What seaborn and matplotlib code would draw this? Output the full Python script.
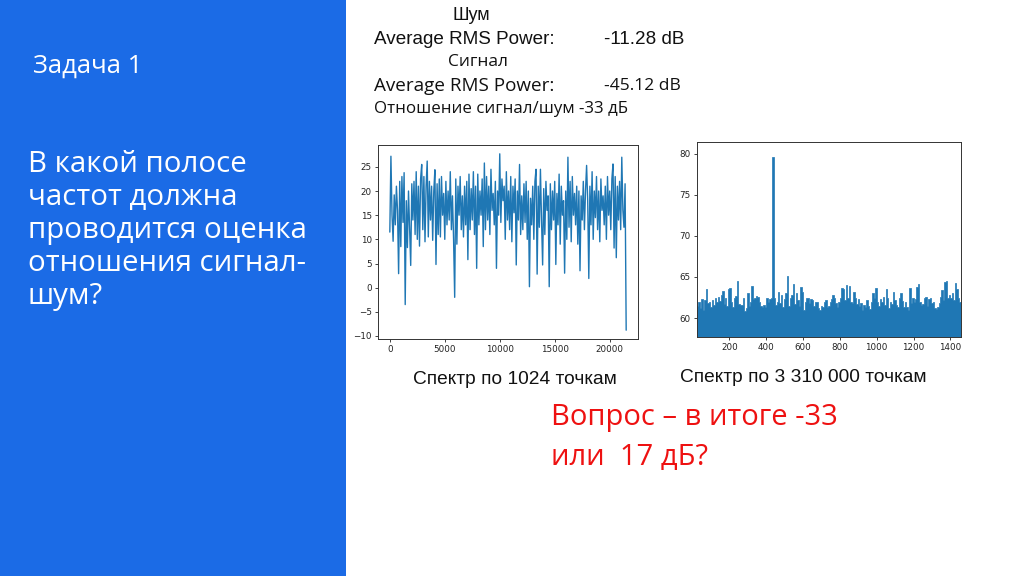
import numpy as np
import pandas as pd
import matplotlib
matplotlib.use("Agg")
import matplotlib.pyplot as plt
import seaborn as sns

# ---------------- data ----------------
noise_freq = np.arange(0, 21600, 100)  # Hz grid of the 1024-point spectrum
noise_db = [
    11.5, 27.2, 15.0, 9.6, 19.2, 13.0, 21.0, 16.0, 2.9, 22.0,
    8.5, 23.0, 13.5, 23.8, -3.5, 18.0, 8.3, 20.0, 12.0, 4.6,
    21.5, 14.0, 22.0, 11.0, 24.0, 10.0, 21.0, 8.6, 22.5, 25.5,
    12.0, 23.0, 9.5, 21.0, 26.2, 10.5, 22.0, 14.0, 21.0, 9.8,
    20.0, 24.4, 4.8, 21.5, 11.0, 22.5, 10.5, 23.0, 15.0, 19.5,
    10.0, 22.0, 13.0, 20.0, 14.0, 24.0, 12.0, 19.0, 10.0, -2.0,
    22.5, 9.0, 21.0, 15.0, 23.0, 12.0, 19.0, 10.5, 21.0, 13.0,
    22.0, 5.8, 23.5, 12.0, 20.5, 14.0, 24.0, 11.0, 21.0, 4.0,
    23.5, 13.0, 20.0, 15.0, 22.5, 8.5, 25.8, 12.0, 23.0, 14.0,
    21.0, 11.0, 24.5, 16.0, 19.5, 13.0, 22.0, 4.0, 20.0, 15.0,
    27.7, 13.5, 22.5, 18.0, 21.0, 10.0, 24.0, 14.0, 20.0, 12.0,
    23.0, 9.5, 21.0, 15.5, 22.5, 4.7, 20.0, 14.0, 25.5, 11.0,
    19.0, 12.0, 21.5, 13.5, 22.0, 10.0, 20.0, 0.2, 18.5, 13.0,
    21.0, 10.0, 22.0, 24.5, 2.8, 21.0, 12.5, 24.5, 14.0, 4.7,
    20.5, 11.0, 22.0, 16.0, 19.0, 0.2, 21.5, 12.0, 20.0, 14.0,
    22.0, 4.8, 19.5, 13.0, 23.5, 9.0, 21.0, 15.0, 18.0, 3.0,
    20.0, 10.0, 27.0, 12.5, 22.0, 9.5, 23.0, 15.0, 19.5, 13.0,
    21.0, 9.0, 20.0, 3.5, 19.0, 14.0, 22.0, 12.0, 20.0, 25.3,
    18.0, 1.9, 21.0, 13.0, 24.0, 10.0, 20.0, 14.5, 23.0, 12.0,
    20.0, 9.5, 22.5, 16.0, 19.0, 13.0, 21.0, 10.0, 23.0, 15.0,
    20.0, 12.0, 22.5, 25.6, 8.2, 23.0, 6.2, 21.0, 14.0, 22.0,
    12.0, 27.0, 16.0, 12.5, 21.5, -8.8,
]

spec_freq = np.arange(28, 1464, 8)          # Hz bin centres of the long spectrum
spec_db = [
    61.5, 62.0, 61.2, 62.3, 61.0, 62.2, 63.5, 61.8, 62.0, 61.3,
    62.2, 61.6, 62.4, 61.9, 62.6, 62.1, 62.8, 63.3, 61.7, 62.5,
    61.5, 63.5, 63.7, 62.0, 61.4, 62.5, 62.7, 64.5, 61.7, 61.6,
    61.6, 62.4, 60.8, 61.2, 63.0, 61.5, 62.0, 63.9, 62.3, 62.5,
    62.7, 62.6, 62.0, 61.5, 61.4, 61.6, 61.3, 62.4, 62.0, 62.3,
    62.5, 79.6, 62.4, 61.6, 62.0, 63.2, 61.8, 62.8, 61.4, 62.3,
    63.0, 65.1, 61.5, 62.4, 62.8, 64.2, 61.7, 63.0, 62.2, 61.5,
    63.8, 63.2, 61.0, 62.0, 62.5, 62.4, 61.8, 62.3, 62.2, 61.5,
    62.0, 61.9, 61.2, 61.0, 61.5, 61.4, 62.0, 62.2, 61.3, 61.5,
    62.0, 62.3, 62.8, 62.5, 61.8, 61.4, 62.0, 62.5, 63.7, 63.5,
    62.2, 64.0, 62.4, 63.9, 62.0, 61.8, 63.2, 62.5, 61.7, 62.3,
    61.5, 61.8, 61.0, 61.6, 61.4, 62.2, 61.5, 61.1, 62.0, 63.1,
    62.4, 63.6, 62.0, 61.5, 62.3, 61.9, 62.6, 61.6, 63.5, 62.4,
    61.2, 62.0, 61.7, 63.2, 62.2, 61.6, 61.4, 62.5, 63.0, 62.1,
    61.3, 62.0, 61.4, 61.0, 63.7, 61.8, 62.5, 61.9, 62.3, 63.8,
    64.2, 62.0, 61.6, 61.7, 62.4, 62.6, 61.5, 62.3, 62.5, 61.8,
    62.0, 61.2, 61.1, 61.4, 61.8, 62.6, 63.4, 62.2, 64.4, 64.5,
    62.5, 62.8, 62.4, 63.0, 62.2, 64.3, 63.5, 62.4, 62.0, 63.3,
]

noise_xticks = [0, 5000, 10000, 15000, 20000]
noise_yticks = [-10, -5, 0, 5, 10, 15, 20, 25]
spec_xticks = [200, 400, 600, 800, 1000, 1200, 1400]
spec_yticks = [60, 65, 70, 75, 80]

title_text = "Задача 1"
question_lines = ["В какой полосе", "частот должна", "проводится оценка",
                  "отношения сигнал-", "шум?"]
caption_left = "Спектр по 1024 точкам"
caption_right = "Спектр по 3 310 000 точкам"
red_lines = ["Вопрос – в итоге -33", "или  17 дБ?"]

# ---------------- figure ----------------
sns.set_theme(style="ticks")
plt.rcParams["font.family"] = ["DejaVu Sans"]

W, H = 1024, 576
fig = plt.figure(figsize=(W / 100, H / 100), dpi=100)
fig.patch.set_facecolor("white")

def fx(px):
    return px / W

def fy(py):
    return 1 - py / H

# blue side panel
fig.patches.append(plt.Rectangle((0, 0), fx(346), 1, transform=fig.transFigure,
                                 facecolor="#1b6be6", edgecolor="none", zorder=0))

# left panel text
fig.text(fx(33), fy(66), title_text, color="white", fontsize=18.5,
         family=["Open Sans", "DejaVu Sans"], va="center", ha="left")
for i, line in enumerate(question_lines):
    fig.text(fx(28), fy(165 + i * 32.8), line, color="white", fontsize=21.2,
             family=["Open Sans", "DejaVu Sans"], va="center", ha="left")

# top text block
fig.text(fx(471), fy(16), "Шум", fontsize=13, va="center", ha="center",
         family=["Liberation Sans", "DejaVu Sans"], color="#111111")
fig.text(fx(374), fy(40), "Average RMS Power:", fontsize=13.6, va="center",
         family=["Liberation Sans", "DejaVu Sans"], color="#111111")
fig.text(fx(604), fy(40), "-11.28 dB", fontsize=13.6, va="center",
         family=["Liberation Sans", "DejaVu Sans"], color="#111111")
fig.text(fx(478), fy(62), "Сигнал", fontsize=12.5, va="center", ha="center",
         family=["Open Sans", "DejaVu Sans"], color="#111111")
fig.text(fx(374), fy(86), "Average RMS Power:", fontsize=13.6, va="center",
         family=["Open Sans", "DejaVu Sans"], color="#111111")
fig.text(fx(604), fy(86), "-45.12 dB", fontsize=12.5, va="center",
         family=["Open Sans", "DejaVu Sans"], color="#111111")
fig.text(fx(374), fy(109), "Отношение сигнал/шум -33 дБ", fontsize=12.2, va="center",
         family=["Open Sans", "DejaVu Sans"], color="#111111")

# captions
fig.text(fx(413), fy(379), caption_left, fontsize=13.8, va="center", ha="left",
         family=["Liberation Sans", "DejaVu Sans"], color="#111111")
fig.text(fx(680), fy(377), caption_right, fontsize=13.8, va="center", ha="left",
         family=["Liberation Sans", "DejaVu Sans"], color="#111111")

# red question
fig.text(fx(551), fy(417), red_lines[0], fontsize=21, va="center", ha="left",
         family=["Open Sans", "DejaVu Sans"], color="#ee1111")
fig.text(fx(551), fy(458), red_lines[1], fontsize=21, va="center", ha="left",
         family=["Open Sans", "DejaVu Sans"], color="#ee1111")

# ---------------- left chart ----------------
ax1 = fig.add_axes([fx(378), fy(339), fx(638) - fx(378), (339 - 145) / H])
df1 = pd.DataFrame({"f": noise_freq, "db": noise_db})
sns.lineplot(data=df1, x="f", y="db", ax=ax1, color="#1f77b4", linewidth=1.0)
ax1.set_xticks(noise_xticks)
ax1.set_yticks(noise_yticks)

# ---------------- right chart ----------------
ax2 = fig.add_axes([fx(697), fy(337), fx(961) - fx(697), (337 - 142) / H])
df2 = pd.DataFrame({"f": spec_freq, "db": spec_db})
sns.histplot(data=df2, x="f", weights="db", binwidth=8, binrange=(24, 1464),
             element="step", fill=True, alpha=1.0, color="#1f77b4",
             linewidth=0.5, ax=ax2)
ax2.set_xlim(24, 1458)
ax2.set_ylim(57.7, 81.4)
ax2.set_xticks(spec_xticks)
ax2.set_yticks(spec_yticks)

for ax in (ax1, ax2):
    ax.set_xlabel("")
    ax.set_ylabel("")
    ax.tick_params(labelsize=6.3, length=2.5, width=0.6, pad=2, colors="#222222")
    for s in ax.spines.values():
        s.set_linewidth(0.7)
        s.set_color("#333333")
    ax.set_facecolor("white")

fig.savefig("out.png", dpi=100)
